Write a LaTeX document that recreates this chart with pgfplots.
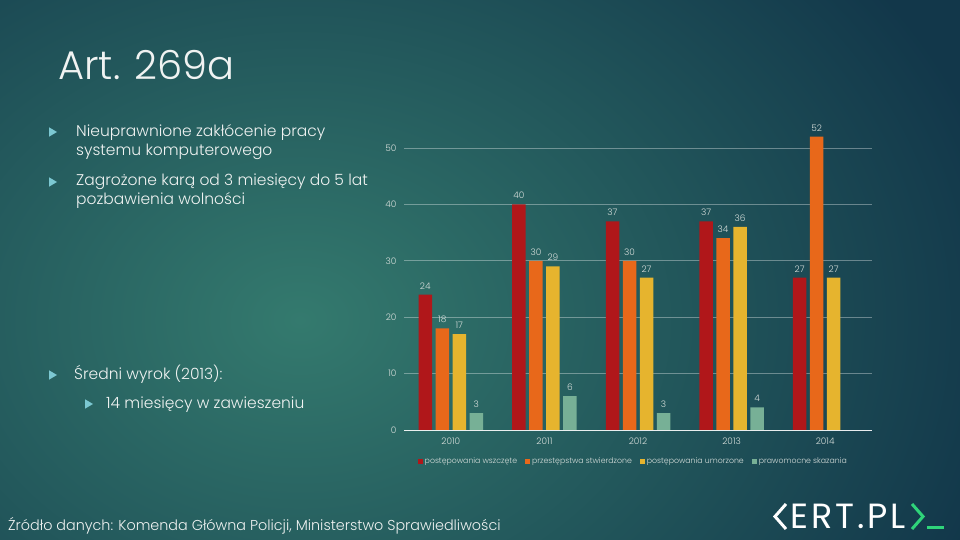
\documentclass[border=0pt]{standalone}
\usepackage{fontspec}
\setmainfont{Poppins Light}
\newfontfamily\logofont{Poppins}
\usepackage{pgfplots}
\pgfplotsset{compat=1.18}
\definecolor{bgout}{HTML}{12374A}
\definecolor{bgin}{HTML}{347A6E}
\definecolor{cred}{HTML}{B0171A}
\definecolor{corange}{HTML}{E8681A}
\definecolor{cyellow}{HTML}{E6B42E}
\definecolor{cteal}{HTML}{77B096}
\definecolor{lbl}{HTML}{D5DDDA}
\definecolor{txt}{HTML}{F0F3F2}
\definecolor{bul}{HTML}{7CC8D2}
\definecolor{certgreen}{HTML}{2FD47A}
\newcommand{\bul}[2]{\fill[bul] (#1,#2+4.7) -- (#1+8,#2) -- (#1,#2-4.7) -- cycle;}
\begin{document}
\begin{tikzpicture}[x=1pt,y=1pt]
\useasboundingbox (0,0) rectangle (960,540);
\fill[bgout] (0,0) rectangle (960,540);
\begin{scope}
\clip (0,0) rectangle (960,540);
\shade[inner color=bgin, outer color=bgout] (300,220) ellipse (720 and 560);
\end{scope}
% title
\node[anchor=base west, inner sep=0, text=txt, font=\fontsize{40}{44}\selectfont] at (58,460) {Art. 269a};
% bullets
\bul{49}{408}
\node[anchor=base west, inner sep=0, text=txt, font=\fontsize{15.5}{19}\selectfont] at (76,403) {Nieuprawnione zakłócenie pracy};
\node[anchor=base west, inner sep=0, text=txt, font=\fontsize{15.5}{19}\selectfont] at (76,384) {systemu komputerowego};
\bul{49}{358}
\node[anchor=base west, inner sep=0, text=txt, font=\fontsize{15.5}{19}\selectfont] at (76,354) {Zagrożone karą od 3 miesięcy do 5 lat};
\node[anchor=base west, inner sep=0, text=txt, font=\fontsize{15.5}{19}\selectfont] at (76,335) {pozbawienia wolności};
\bul{49}{165}
\node[anchor=base west, inner sep=0, text=txt, font=\fontsize{15.5}{19}\selectfont] at (74,160) {Średni wyrok (2013):};
\bul{85}{136}
\node[anchor=base west, inner sep=0, text=txt, font=\fontsize{15.5}{19}\selectfont] at (106,131) {14 miesięcy w zawieszeniu};
% footer
\node[anchor=base west, inner sep=0, text=txt, font=\fontsize{14.35}{17}\selectfont] at (8,9) {Źródło danych: Komenda Główna Policji, Ministerstwo Sprawiedliwości};
% logo
\draw[white, line width=3pt] (786,36) -- (775,23.5) -- (786,11);
\node[anchor=base west, inner sep=0, text=white, font=\logofont\fontsize{35}{35}\selectfont] at (790,11) {E\hspace{3pt}R\hspace{3pt}T\hspace{3pt}.\hspace{3pt}P\hspace{3pt}L};
\draw[certgreen, line width=3pt] (912,36) -- (923,23.5) -- (912,11);
\draw[certgreen, line width=3pt] (927,12.5) -- (944,12.5);
\begin{axis}[
  at={(404pt,110pt)}, anchor=south west,
  scale only axis, width=468pt, height=310.2pt,
  xmin=-0.5, xmax=4.5, ymin=0, ymax=55,
  ybar=3.5pt, bar width=13.5pt,
  axis line style={draw=none},
  tick style={draw=none},
  xtick={0,1,2,3,4}, xticklabels={2010,2011,2012,2013,2014},
  ytick={0,10,20,30,40,50},
  ymajorgrids, grid style={draw=white, opacity=0.35, line width=0.7pt},
  ticklabel style={font=\fontsize{9}{10}\selectfont, text=lbl},
  yticklabel style={xshift=-4pt},
  /pgf/number format/assume math mode=true,
  nodes near coords,
  every node near coord/.append style={font=\fontsize{9}{10}\selectfont, text=lbl, yshift=2pt},
  legend columns=4,
  legend style={at={(0.49,-0.1)}, anchor=center, draw=none, fill=none, font=\fontsize{7.8}{10}\selectfont, text=lbl, /tikz/every even column/.append style={column sep=6pt}},
  legend image code/.code={\fill[#1] (0pt,-2.5pt) rectangle (5pt,2.5pt);},
  clip=false,
]
\draw[white, opacity=0.85, line width=0.8pt] (axis cs:-0.5,0) -- (axis cs:4.5,0);
\addplot[fill=cred, draw=none] coordinates {(0,24) (1,40) (2,37) (3,37) (4,27)};
\addlegendentry{postępowania wszczęte}
\addplot[fill=corange, draw=none] coordinates {(0,18) (1,30) (2,30) (3,34) (4,52)};
\addlegendentry{przestępstwa stwierdzone}
\addplot[fill=cyellow, draw=none] coordinates {(0,17) (1,29) (2,27) (3,36) (4,27)};
\addlegendentry{postępowania umorzone}
\addplot[fill=cteal, draw=none] coordinates {(0,3) (1,6) (2,3) (3,4)};
\addlegendentry{prawomocne skazania}
\end{axis}
\end{tikzpicture}
\end{document}
